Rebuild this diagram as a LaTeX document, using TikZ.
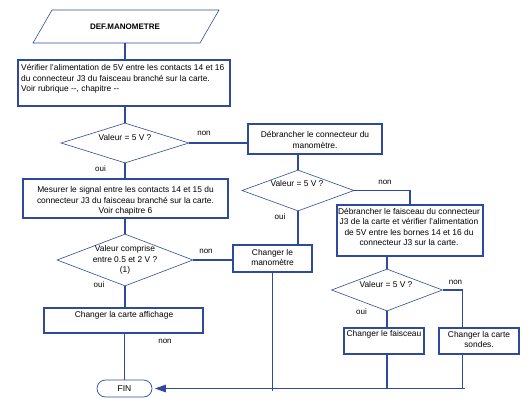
\documentclass[tikz,border=0pt]{standalone}
\usepackage{fontspec}
\setmainfont{Liberation Sans}
\usetikzlibrary{shapes.geometric,arrows.meta,calc}
\definecolor{fc}{RGB}{47,74,157}
\begin{document}
\begin{tikzpicture}[x=1pt,y=-1pt,
  every node/.style={font=\fontsize{8.4}{10.5}\selectfont, text=black},
  box/.style={draw=fc, line width=1.5pt, inner sep=0pt},
  dia/.style={diamond, draw=fc, line width=0.6pt, inner sep=0pt},
  txt/.style={inner sep=0pt, align=center},
  lab/.style={inner sep=0pt, font=\fontsize{8}{9}\selectfont},
  con/.style={draw=fc, line width=1.2pt},
]
\useasboundingbox (0,0) rectangle (530,409);

% start parallelogram
\draw[fc, line width=0.6pt] (52,10) -- (219,10) -- (200,43) -- (33,43) -- cycle;
\node[inner sep=0pt, minimum height=33pt, font=\bfseries\fontsize{8}{10}\selectfont] (def) at (125,26.5) {DEF.MANOMETRE};

% left column
\node[box, minimum width=212pt, minimum height=46pt] (b1) at (124,83) {};
\node[inner sep=0pt, align=left, anchor=north west] (t1) at (21,64.5) {Vérifier l'alimentation de 5V entre les contacts 14 et 16\\du connecteur J3 du faisceau branché sur la carte.\\Voir rubrique {-}{-}, chapitre {-}{-}};

\node[dia, minimum width=128pt, minimum height=40pt] (d1) at (125,143) {};
\node[txt] (td1) at (125,137) {Valeur = 5 V ?};

\node[box, minimum width=205pt, minimum height=39pt] (b2) at (125.5,198.5) {};
\node[txt] (t2) at (125.5,201) {Mesurer le signal entre les contacts 14 et 15 du\\connecteur J3 du faisceau branché sur la carte.\\Voir chapitre 6};

\node[dia, minimum width=136pt, minimum height=52pt] (d2) at (125,260) {};
\node[txt] (td2) at (125,260) {Valeur comprise\\entre 0.5 et 2 V ?\\(1)};

\node[box, minimum width=159pt, minimum height=25pt] (b3) at (123.5,320.5) {};
\node[txt] (t3) at (124,315) {Changer la carte affichage};

\node[draw=fc, line width=0.7pt, rounded corners=8.5pt, minimum width=55pt, minimum height=17pt, inner sep=0pt, font=\fontsize{8.5}{10}\selectfont] (fin) at (124.5,388.5) {FIN};

% middle column
\node[box, minimum width=134pt, minimum height=30pt] (bd) at (315,139) {};
\node[txt] (tbd) at (315,140) {Débrancher le connecteur du\\manomètre.};

\node[dia, minimum width=112pt, minimum height=41pt] (d3) at (298,190.5) {};
\node[txt] (td3) at (297,183) {Valeur = 5 V ?};

\node[box, minimum width=79pt, minimum height=27pt] (bm) at (272.5,258.5) {};
\node[txt] (tbm) at (272.5,257.5) {Changer le\\manomètre};

% right column
\node[box, minimum width=146pt, minimum height=51pt] (bf) at (410,230.5) {};
\node[txt] (tbf) at (409,227) {Débrancher le faisceau du connecteur\\J3 de la carte et vérifier l'alimentation\\de 5V entre les bornes 14 et 16 du\\connecteur J3 sur la carte.};

\node[dia, minimum width=111pt, minimum height=42pt] (d4) at (387,290) {};
\node[txt] (td4) at (386,284) {Valeur = 5 V ?};

\node[box, minimum width=80pt, minimum height=26pt] (bcf) at (384,341) {};
\node[txt] (tbcf) at (384,334) {Changer le faisceau};

\node[box, minimum width=80pt, minimum height=26pt] (bcs) at (479,341) {};
\node[txt] (tbcs) at (479,339.5) {Changer la carte\\sondes.};

% connectors
\draw[con] (def.south) -- (def.south |- b1.north);
\draw[con] (d1.north |- b1.south) -- (d1.north);
\draw[con] (d1.east) -- (d1.east -| bd.west);
\draw[con] (d1.south) -- (d1.south |- b2.north);
\draw[con] (d2.north |- b2.south) -- (d2.north);
\draw[con] (d2.east) -- (d2.east -| bm.west);
\draw[con] (d2.south) -- (d2.south |- b3.north);
\draw[con] (fin.north |- b3.south) -- (fin.north);

\draw[con] (d3.north |- bd.south) -- (d3.north);
\draw[con] (d3.east) -| (bf.north);
\draw[con] (d3.south) -- (d3.south |- bm.north);
\draw[con] (d4.north |- bf.south) -- (d4.north);
\draw[con] (d4.east) -- ++(20,0) coordinate (k4) -- (k4 |- bcs.north);
\draw[con] (d4.south) -- (d4.south |- bcf.north);

\coordinate (bot) at (465,388.5);
\draw[con] (d4.south |- bcf.south) -- (d4.south |- bot);
\draw[con] (k4 |- bcs.south) -- (k4 |- bot);
\draw[con] (bm.south) -- ($(bm.south |- bot)+(0,2.5)$);
\draw[con, shorten >=2.5pt, -{Triangle[length=11pt,width=7.5pt]}] (bot) -- (fin.east);

% labels
\node[lab] (n1) at (204,133) {non};
\node[lab] (o1) at (100.5,169) {oui};
\node[lab] (n2) at (206,251) {non};
\node[lab] (o2) at (99,285) {oui};
\node[lab] (n3) at (165,341) {non};
\node[lab] (n4) at (385,182) {non};
\node[lab] (o4) at (280,217) {oui};
\node[lab] (n5) at (455.5,282) {non};
\node[lab] (o5) at (361.5,312) {oui};
\end{tikzpicture}
\end{document}
